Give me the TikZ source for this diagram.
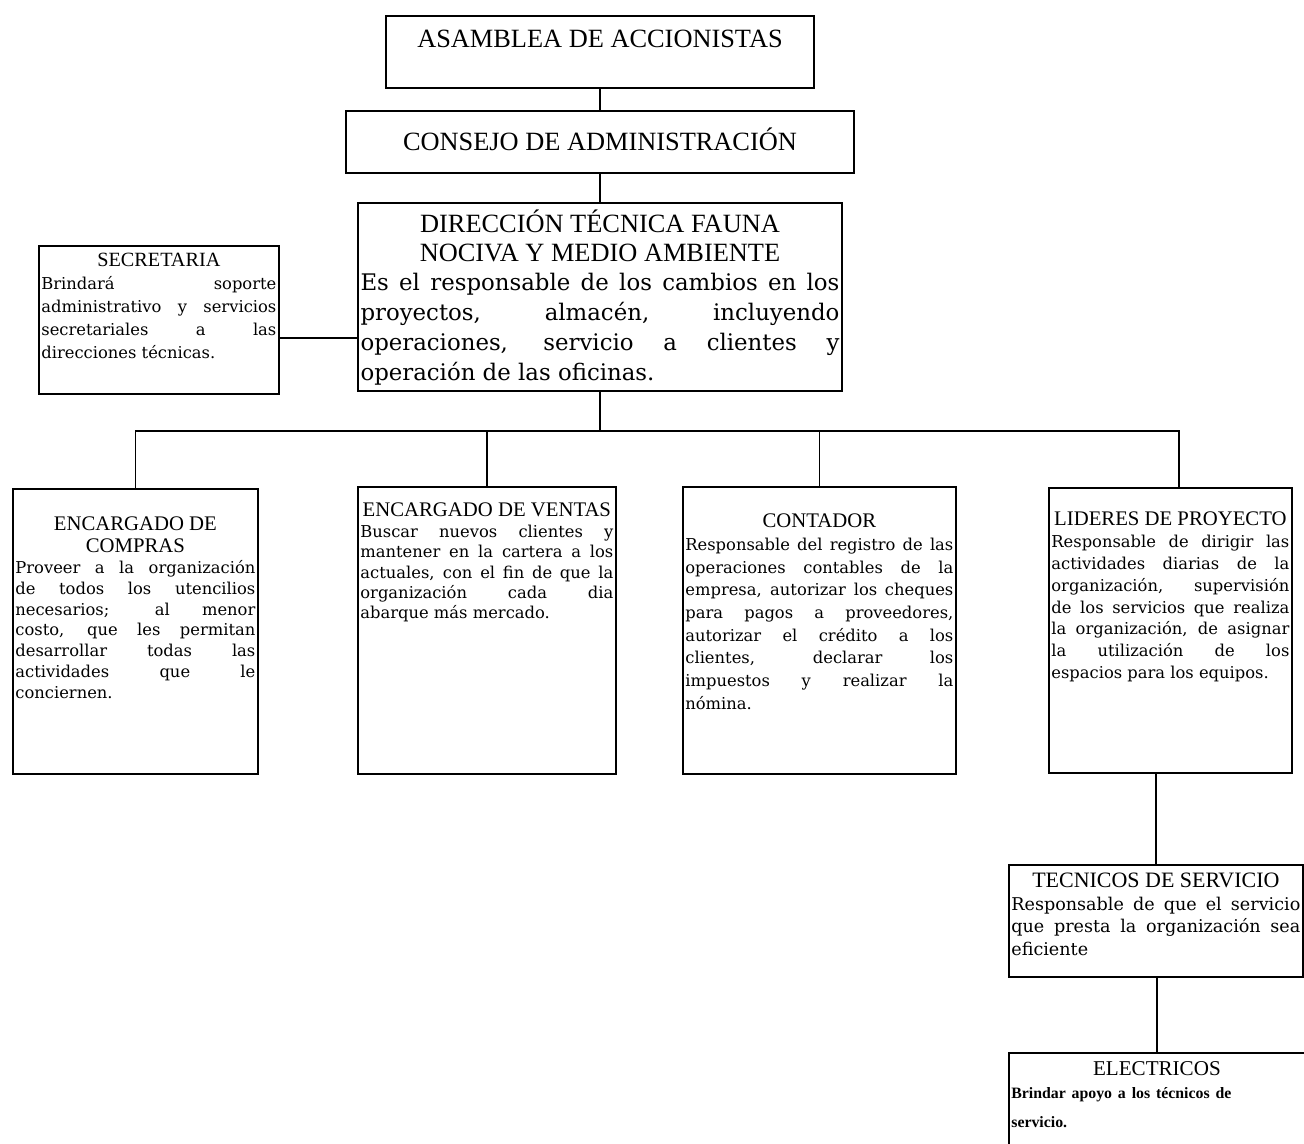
\documentclass[tikz,border=0pt]{standalone}
\usepackage{fontspec}
\setmainfont{Liberation Serif}
\newfontfamily\textofont{DejaVu Serif}
\usepackage{tikz}

% title line(s) of a box, centred
\newcommand{\cabeza}[3]{{\centering\fontsize{#1}{#2}\selectfont #3\par}}
% body text of a box
\newcommand{\texto}[3]{{\textofont\fontsize{#1}{#2}\selectfont\pretolerance=10000 #3\par}}

\tikzset{
  puesto/.style={draw, line width=1pt, anchor=north west, align=justify,
    inner xsep=0.05cm, inner ysep=0pt},
  linea/.style={line width=1pt},
}

\begin{document}
\begin{tikzpicture}
\useasboundingbox (0,0) rectangle (26.08,-22.88);
\clip (0,0) rectangle (26.08,-22.88);

% top of the chart
\node[puesto, anchor=north, text width=8.46cm, text height=0.64cm, text depth=0.8cm]
  (asamblea) at (12,-0.3) {\cabeza{15}{18}{ASAMBLEA DE ACCIONISTAS}};
\node[puesto, anchor=north, text width=10.06cm, text height=0.8cm, text depth=0.44cm]
  (consejo) at (12,-2.2) {\cabeza{15}{18}{CONSEJO DE ADMINISTRACIÓN}};
\node[puesto, anchor=north, text width=9.58cm, text height=0.6cm, text depth=3.16cm]
  (direccion) at (12,-4.04) {\cabeza{15}{16}{DIRECCIÓN TÉCNICA FAUNA\\ NOCIVA Y MEDIO AMBIENTE}
  \texto{13}{17}{Es el responsable de los cambios en los\linebreak
  proyectos, almacén, incluyendo\linebreak
  operaciones, servicio a clientes y\linebreak
  operación de las oficinas.}};
\node[puesto, text width=4.7cm, text height=0.42cm, text depth=2.54cm]
  (secretaria) at (0.76,-4.9) {\cabeza{11.5}{13}{SECRETARIA}
  \texto{9.3}{13}{Brindará soporte\linebreak
  administrativo y servicios\linebreak
  secretariales a las\linebreak
  direcciones técnicas.}};

% second level
\node[puesto, text width=4.8cm, text height=0.84cm, text depth=4.86cm]
  (compras) at (0.24,-9.76) {\cabeza{11.8}{12.5}{ENCARGADO DE\\ COMPRAS}
  \texto{9.3}{11.8}{Proveer a la organización\linebreak
  de todos los utencilios\linebreak
  necesarios; al menor\linebreak
  costo, que les permitan\linebreak
  desarrollar todas las\linebreak
  actividades que le\linebreak
  conciernen.}};
\node[puesto, text width=5.06cm, text height=0.6cm, text depth=5.14cm]
  (ventas) at (7.14,-9.72) {\cabeza{11.8}{12.5}{ENCARGADO DE VENTAS}
  \texto{9.3}{11.6}{Buscar nuevos clientes y\linebreak
  mantener en la cartera a los\linebreak
  actuales, con el fin de que la\linebreak
  organización cada dia\linebreak
  abarque más mercado.}};
\node[puesto, text width=5.36cm, text height=0.82cm, text depth=4.92cm]
  (contador) at (13.64,-9.72) {\cabeza{11.8}{12.5}{CONTADOR}
  \texto{9.3}{12.9}{Responsable del registro de las\linebreak
  operaciones contables de la\linebreak
  empresa, autorizar los cheques\linebreak
  para pagos a proveedores,\linebreak
  autorizar el crédito a los\linebreak
  clientes, declarar los\linebreak
  impuestos y realizar la\linebreak
  nómina.}};
\node[puesto, text width=4.76cm, text height=0.76cm, text depth=4.94cm]
  (lideres) at (20.96,-9.74) {\cabeza{11.8}{12.5}{LIDERES DE PROYECTO}
  \texto{9.3}{12.4}{Responsable de dirigir las\linebreak
  actividades diarias de la\linebreak
  organización, supervisión\linebreak
  de los servicios que realiza\linebreak
  la organización, de asignar\linebreak
  la utilización de los\linebreak
  espacios para los equipos.}};

% under the project leaders
\node[puesto, text width=5.78cm, text height=0.46cm, text depth=1.78cm]
  (tecnicos) at (20.16,-17.28) {\cabeza{12.5}{13}{TECNICOS DE SERVICIO}
  \texto{10}{12.8}{Responsable de que el servicio\linebreak
  que presta la organización sea\linebreak
  eficiente}};
\node[puesto, align=left, text width=5.82cm, text height=0.46cm, text depth=1.7cm]
  (electricos) at (20.16,-21.04) {\cabeza{12}{13}{ELECTRICOS}\vspace{-0.13cm}
  {\fontsize{9}{16.5}\selectfont\bfseries Brindar apoyo a los técnicos de\\
  servicio.\par}};

% connectors
\coordinate (bus) at (12,-8.62);
\coordinate (busfin) at (23.58,-8.62);

\draw[linea] (asamblea) -- (consejo);
\draw[linea] (consejo) -- (direccion);
\draw[linea] ([yshift=-3.6mm]secretaria.east) -- ([yshift=-3.6mm]secretaria.east -| direccion.west);
\draw[linea] (direccion) -- (bus);
\draw[linea] (compras.north) |- (busfin) -- (busfin |- lideres.north);
\draw[linea] (ventas.north) -- (ventas.north |- bus);
\draw[linea] (contador.north) -- (contador.north |- bus);
\draw[linea] (tecnicos.north) -- (tecnicos.north |- lideres.south);
\draw[linea] (electricos.north) -- (electricos.north |- tecnicos.south);
\end{tikzpicture}
\end{document}
